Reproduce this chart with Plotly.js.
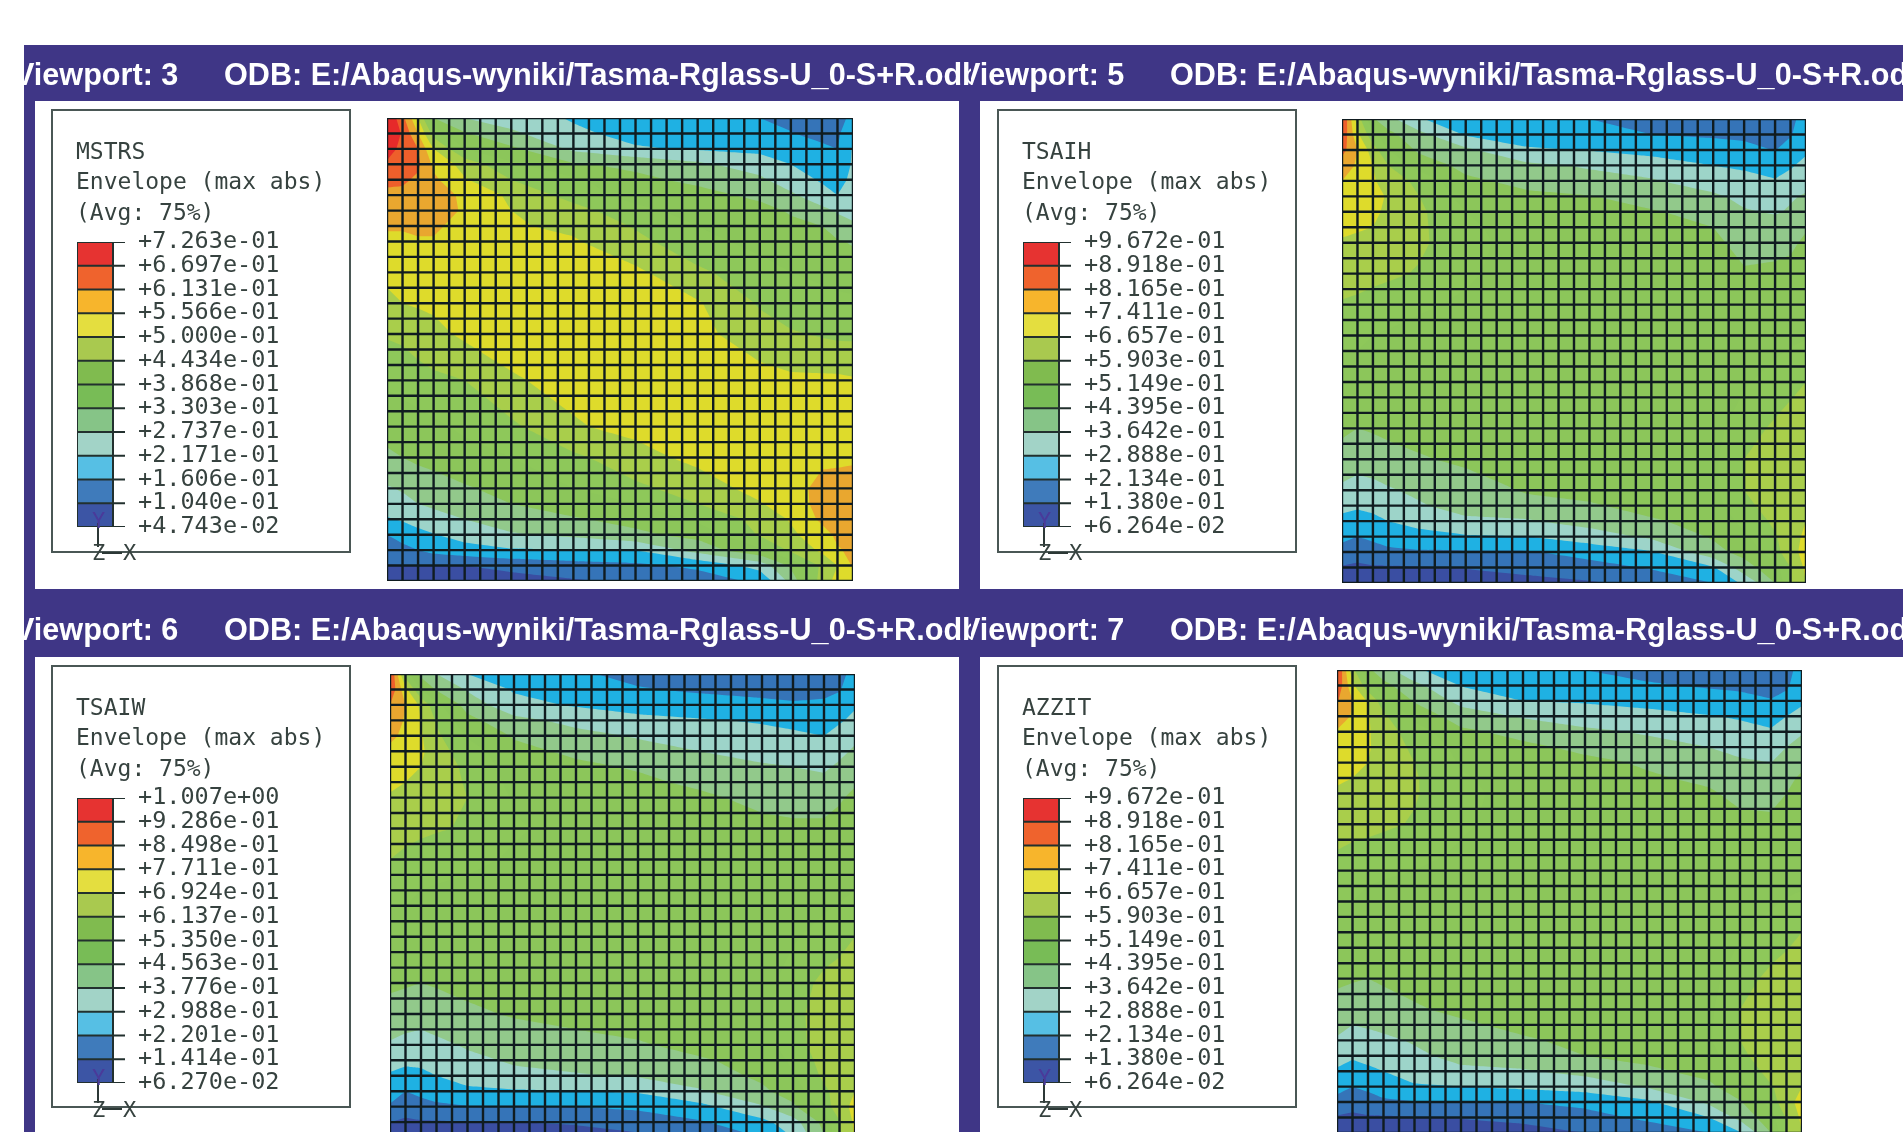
<!DOCTYPE html>
<html><head><meta charset="utf-8">
<script src="https://cdn.plot.ly/plotly-3.0.1.min.js"></script>
<style>html,body{margin:0;padding:0;background:#fff}#plot{width:1903px;height:1132px;filter:blur(0.6px)}</style>
</head><body><div id="plot"></div>
<script>
// Mesh sampling positions, in element counts from the top-left corner of the plate
const nodeX = [0,1,2,3,5,8,12,16,20,24,26,28,29,30];
const nodeY = [0,1,2,3,4,5,6,7,8,10,12,14,17,20,22,24,25,26,27,28,29,30];
const meshCells = [...Array(31).keys()];

// Contour-band position: 0 = lowest legend band ... 11 = highest band
const mstrsBands = [
[12.0,10.3,8.0,5.0,4.0,3.5,2.9,2.6,2.4,2.0,1.7,1.5,1.6,2.3],
[11.8,10.9,9.0,6.6,5.1,4.2,3.2,2.7,2.6,2.4,2.05,1.7,1.8,2.9],
[11.3,10.8,10.0,8.0,6.0,5.2,3.8,3.1,2.9,2.75,2.5,2.2,2.0,3.1],
[10.9,10.5,10.2,8.8,7.6,6.2,5.1,4.8,4.2,3.5,3.0,2.5,2.4,3.1],
[10.2,10.2,9.8,9.2,8.1,7.0,6.2,5.2,4.8,4.2,3.4,2.9,2.7,3.2],
[9.8,9.7,9.6,9.5,8.8,7.8,6.6,5.6,5.3,4.8,4.2,3.3,3.0,3.3],
[9.7,9.6,9.5,9.4,8.9,8.0,7.4,6.3,5.6,5.3,4.9,4.3,3.9,3.6],
[9.1,9.1,9.2,9.2,8.6,8.1,7.8,6.9,6.0,5.5,5.2,5.0,4.4,4.2],
[8.8,8.8,8.9,8.9,8.6,8.4,8.1,7.3,6.3,5.7,5.4,5.3,5.1,4.9],
[8.3,8.4,8.5,8.6,8.5,8.4,8.2,8.2,7.2,6.4,6.0,5.8,5.7,5.5],
[7.7,8.0,8.1,8.2,8.4,8.5,8.5,8.4,8.1,6.9,6.5,6.3,6.2,6.2],
[7.1,7.2,7.5,7.7,8.2,8.4,8.5,8.6,8.3,7.4,7.1,6.9,6.8,6.8],
[6.2,6.4,6.6,6.8,7.0,7.9,8.3,8.6,8.7,8.4,8.2,8.2,8.2,8.1],
[5.2,5.4,5.6,5.8,6.2,6.8,7.9,8.3,8.6,8.7,8.7,8.6,8.5,8.4],
[4.9,5.0,5.2,5.3,5.6,6.0,6.8,7.6,8.3,8.6,8.8,8.9,8.9,8.9],
[3.9,4.1,4.4,4.6,4.9,5.3,6.0,6.8,7.4,8.4,8.8,9.15,9.2,9.3],
[3.5,3.7,4.0,4.2,4.6,5.0,5.5,6.0,7.0,7.9,8.7,9.2,9.4,9.4],
[2.9,3.1,3.4,3.6,4.0,4.5,4.9,5.3,6.2,7.3,8.1,9.2,9.4,9.4],
[2.0,2.4,2.7,2.95,3.4,3.9,4.2,4.8,5.3,7.1,7.8,8.6,9.2,9.3],
[1.5,1.7,2.0,2.3,2.6,2.9,3.0,3.0,4.4,5.8,7.2,8.2,8.9,9.2],
[0.95,0.97,0.98,0.99,1.0,1.3,1.6,1.8,2.2,3.4,5.2,7.2,8.0,9.1],
[0.3,0.3,0.4,0.4,0.5,0.6,0.9,1.2,1.5,2.2,4.3,7.5,8.3,9.0]];
const tsaihBands = [
[11.2,7.5,5.1,4.3,3.05,2.6,2.3,2.0,1.7,1.5,1.4,1.3,1.7,2.5],
[10.9,8.2,6.3,5.3,4.3,2.9,2.6,2.3,2.0,1.85,1.7,1.6,1.9,2.8],
[10.4,9.0,7.5,6.0,4.8,4.2,3.1,2.95,2.65,2.5,2.4,1.95,2.5,2.85],
[9.4,8.9,8.0,7.0,5.6,4.7,4.2,3.9,3.5,3.0,2.9,2.7,2.9,3.25],
[9.0,8.8,8.1,7.6,6.7,5.2,4.7,4.3,4.1,3.4,3.2,3.05,3.3,3.7],
[8.7,8.6,8.3,7.9,7.0,5.6,5.2,5.05,4.5,4.2,3.7,3.6,3.9,4.1],
[8.5,8.4,8.2,7.8,7.2,6.0,5.4,5.2,5.1,4.6,4.1,3.9,4.1,4.4],
[8.2,8.1,8.0,7.7,7.2,6.2,5.5,5.3,5.2,5.0,4.5,4.4,4.6,4.9],
[7.9,7.8,7.7,7.6,7.2,6.3,5.6,5.4,5.3,5.2,4.7,4.7,4.8,5.2],
[7.5,7.4,7.3,7.2,6.9,6.1,5.7,5.5,5.5,5.4,5.1,5.2,5.3,5.5],
[6.9,6.8,6.6,6.4,6.1,5.9,5.7,5.6,5.6,5.5,5.4,5.5,5.6,5.6],
[6.3,6.2,6.0,5.9,5.8,5.7,5.6,5.6,5.6,5.6,5.6,5.7,5.8,5.9],
[5.6,5.6,5.6,5.6,5.6,5.6,5.6,5.6,5.6,5.7,5.9,6.3,6.6,7.0],
[5.2,5.0,5.1,5.2,5.4,5.5,5.6,5.6,5.6,5.7,6.5,7.2,7.6,7.7],
[4.6,4.4,4.5,4.7,4.9,5.2,5.4,5.5,5.6,5.8,7.0,7.6,7.7,7.8],
[3.8,3.6,3.7,3.9,4.2,4.5,5.1,5.3,5.5,5.8,7.0,7.7,7.7,7.8],
[3.2,3.1,3.2,3.4,3.9,4.4,4.7,4.9,5.3,5.6,6.7,7.5,7.7,7.9],
[2.8,2.7,2.8,3.0,3.4,3.8,3.9,4.4,4.9,5.3,6.3,7.2,7.6,8.0],
[2.2,2.0,2.2,2.4,2.6,2.9,3.0,3.5,4.2,5.1,5.8,6.9,7.6,8.2],
[1.7,1.4,1.6,1.8,1.9,1.9,1.9,2.4,2.9,4.7,5.3,6.6,7.7,8.3],
[0.9,0.8,0.9,0.9,0.95,1.05,1.3,1.6,2.1,2.9,4.6,5.6,7.0,8.2],
[0.4,0.4,0.4,0.4,0.5,0.5,0.7,0.9,1.3,2.0,3.2,5.0,7.0,8.0]];
const tsaiwBands = [
[11.3,6.5,4.7,4.0,3.0,2.6,2.1,1.8,1.6,1.4,1.3,1.3,1.6,2.5],
[10.9,8.3,6.0,4.9,3.9,2.9,2.5,2.05,1.9,1.75,1.7,1.7,1.9,2.8],
[10.0,9.0,7.8,6.3,4.6,3.3,2.9,2.7,2.3,2.2,2.1,2.2,2.5,2.9],
[9.6,8.9,8.0,6.9,5.3,4.3,3.7,3.2,3.1,2.9,2.7,2.6,2.9,3.2],
[9.2,8.8,8.1,7.2,5.9,4.9,4.3,3.9,3.5,3.3,3.2,3.0,3.3,3.7],
[8.8,8.5,8.2,7.4,6.5,5.3,4.8,4.4,4.0,3.7,3.5,3.4,3.7,4.2],
[8.5,8.3,8.0,7.5,6.8,5.5,5.2,4.9,4.4,4.1,4.0,3.8,4.2,4.5],
[8.2,8.0,7.8,7.5,6.9,5.7,5.3,5.2,4.8,4.4,4.3,4.3,4.6,4.9],
[7.9,7.7,7.6,7.4,7.0,5.9,5.5,5.4,5.2,4.7,4.6,4.6,4.9,5.2],
[7.4,7.3,7.2,7.1,6.9,6.1,5.7,5.6,5.5,5.3,5.2,5.2,5.3,5.5],
[7.0,6.8,6.6,6.4,6.2,5.9,5.7,5.6,5.6,5.6,5.5,5.5,5.6,5.6],
[6.2,6.2,6.0,5.9,5.8,5.7,5.6,5.6,5.6,5.6,5.6,5.7,5.8,6.0],
[5.6,5.6,5.6,5.6,5.6,5.6,5.6,5.6,5.6,5.7,5.9,6.3,6.6,7.0],
[5.2,5.1,5.0,5.1,5.3,5.5,5.6,5.6,5.6,5.7,6.4,7.3,7.5,7.7],
[4.6,4.5,4.4,4.5,4.8,5.1,5.3,5.5,5.6,5.7,6.6,7.6,7.7,7.7],
[3.9,3.7,3.6,3.8,4.1,4.4,4.7,4.9,5.3,5.6,6.5,7.6,7.7,7.7],
[3.3,3.2,3.2,3.4,3.8,4.1,4.4,4.7,4.9,5.3,6.2,7.4,7.6,7.8],
[2.9,2.7,2.8,3.0,3.4,3.8,3.9,4.1,4.5,5.2,5.9,7.2,7.6,7.9],
[2.4,2.0,2.2,2.5,2.8,2.9,3.0,3.1,3.9,4.8,5.5,6.8,7.4,8.0],
[1.9,1.5,1.7,1.8,1.95,1.95,2.0,2.2,2.7,3.9,4.8,6.4,7.7,8.2],
[1.0,0.8,0.9,0.9,1.0,1.0,1.1,1.4,1.9,2.7,3.6,5.3,6.9,8.2],
[0.4,0.4,0.4,0.4,0.4,0.5,0.6,0.8,1.2,2.0,3.0,4.9,6.9,8.1]];
const azzitBands = [
[11.3,7.3,5.2,4.4,3.1,2.6,2.3,2.0,1.7,1.5,1.4,1.3,1.6,2.5],
[10.9,8.2,6.4,5.3,4.3,2.95,2.6,2.3,2.1,1.9,1.8,1.7,1.8,2.8],
[10.1,9.0,7.9,6.4,4.9,3.7,3.0,2.9,2.7,2.4,2.3,2.05,2.4,2.85],
[9.6,8.9,8.1,7.2,5.7,4.5,3.9,3.5,3.3,3.05,2.9,2.7,3.0,3.3],
[8.9,8.8,8.1,7.5,6.5,5.2,4.7,4.2,3.9,3.5,3.3,3.1,3.5,3.9],
[8.6,8.5,8.1,7.6,6.8,5.7,5.2,4.8,4.3,4.0,3.8,3.6,4.0,4.4],
[8.4,8.3,8.0,7.6,7.0,5.9,5.4,5.2,4.9,4.4,4.1,4.0,4.3,4.7],
[8.1,8.0,7.8,7.6,7.1,6.1,5.6,5.4,5.1,4.85,4.4,4.4,4.7,5.2],
[7.9,7.7,7.6,7.4,7.1,6.2,5.7,5.5,5.3,5.1,4.8,4.7,5.0,5.4],
[7.5,7.4,7.3,7.2,6.9,6.1,5.7,5.6,5.5,5.3,5.2,5.2,5.3,5.5],
[6.9,6.7,6.6,6.4,6.2,5.9,5.7,5.6,5.6,5.5,5.5,5.5,5.6,5.6],
[6.3,6.2,6.0,5.9,5.8,5.7,5.6,5.6,5.6,5.6,5.6,5.7,5.8,5.9],
[5.6,5.6,5.6,5.6,5.6,5.6,5.6,5.6,5.6,5.7,5.9,6.3,6.6,7.0],
[5.2,5.1,5.0,5.1,5.3,5.5,5.6,5.6,5.6,5.7,6.5,7.3,7.6,7.7],
[4.6,4.4,4.5,4.7,4.9,5.2,5.5,5.6,5.6,5.8,7.0,7.6,7.7,7.8],
[3.9,3.6,3.7,3.8,4.1,4.5,4.9,5.2,5.5,5.9,7.0,7.6,7.7,7.8],
[3.3,3.1,3.3,3.4,3.8,4.3,4.6,5.0,5.3,5.6,6.8,7.5,7.6,7.8],
[2.9,2.7,2.8,3.0,3.4,3.8,3.9,4.3,4.8,5.3,6.2,7.4,7.6,7.9],
[2.3,2.0,2.2,2.6,2.9,3.0,3.2,3.4,4.1,4.8,5.6,6.9,7.5,8.0],
[1.7,1.4,1.6,1.8,1.95,1.98,2.0,2.3,2.8,4.2,4.9,6.4,7.8,8.2],
[0.9,0.8,0.9,0.9,0.95,1.05,1.2,1.6,2.2,3.0,4.3,5.6,7.1,8.2],
[0.4,0.4,0.4,0.4,0.5,0.5,0.7,1.0,1.4,2.0,2.9,5.0,7.0,8.0]];

// Legend tick labels, bottom to top
const mstrsTicks = ["+4.743e-02","+1.040e-01","+1.606e-01","+2.171e-01","+2.737e-01","+3.303e-01","+3.868e-01","+4.434e-01","+5.000e-01","+5.566e-01","+6.131e-01","+6.697e-01","+7.263e-01"];
const tsaihTicks = ["+6.264e-02","+1.380e-01","+2.134e-01","+2.888e-01","+3.642e-01","+4.395e-01","+5.149e-01","+5.903e-01","+6.657e-01","+7.411e-01","+8.165e-01","+8.918e-01","+9.672e-01"];
const tsaiwTicks = ["+6.270e-02","+1.414e-01","+2.201e-01","+2.988e-01","+3.776e-01","+4.563e-01","+5.350e-01","+6.137e-01","+6.924e-01","+7.711e-01","+8.498e-01","+9.286e-01","+1.007e+00"];
const azzitTicks = ["+6.264e-02","+1.380e-01","+2.134e-01","+2.888e-01","+3.642e-01","+4.395e-01","+5.149e-01","+5.903e-01","+6.657e-01","+7.411e-01","+8.165e-01","+8.918e-01","+9.672e-01"];
const legendBands = [0,1,2,3,4,5,6,7,8,9,10,11];

const fieldColors = ["#3a4ea2","#3574b8","#1fb1e3","#9dd4c9","#92c98b","#8cc65a","#8ec85a","#a9ce4b","#dedb2b","#e9a72f","#ee5f2b","#e62a2a"];
const legendColors = ["#3c55a5","#3f7bbb","#56bfe4","#a2d3c7","#86c487","#78bc56","#80bb4f","#a9c94f","#e4de3f","#f7b52c","#ef632d","#e63331"];
const odbPath = "ODB: E:/Abaqus-wyniki/Tasma-Rglass-U_0-S+R.odb";

const W = 1903, H = 1132;
const PURPLE = "#3f3686", INK = "#36423f", MESH = "#101c20";
const mono = "DejaVu Sans Mono", headFont = "Liberation Sans";
const stepped = cs => cs.flatMap((c,i)=>[[i/cs.length,c],[(i+1)/cs.length,c]]);
const fx = p => p/W, fy = p => 1-p/H;

const panels = [
 {name:"MSTRS", vp:"3", z:mstrsBands, ticks:mstrsTicks, hx:[24,971], hy:[45,101], hv:0.43, tx:14,   ox:224,
  plate:[387,853,118,581], yEnd:30, box:[52,350,110,552], bar:[77,113,242,527], white:[35,959,101,589]},
 {name:"TSAIH", vp:"5", z:tsaihBands, ticks:tsaihTicks, hx:[971,1903], hy:[45,101], hv:0.43, tx:960, ox:1170,
  plate:[1342,1806,119,583], yEnd:30, box:[998,1296,110,552], bar:[1023,1059,242,527], white:[980,1903,101,589]},
 {name:"TSAIW", vp:"6", z:tsaiwBands, ticks:tsaiwTicks, hx:[24,971], hy:[589,657], hv:0.36, tx:14,  ox:224,
  plate:[390,855,674,1132], yEnd:29.64, box:[52,350,666,1107], bar:[77,113,798,1083], white:[35,959,657,1132]},
 {name:"AZZIT", vp:"7", z:azzitBands, ticks:azzitTicks, hx:[971,1903], hy:[589,657], hv:0.36, tx:960, ox:1170,
  plate:[1337,1802,670,1132], yEnd:29.94, box:[998,1296,666,1107], bar:[1023,1059,798,1083], white:[980,1903,657,1132]}
];

const data = [], shapes = [], annotations = [];
const layout = {width:W, height:H, margin:{l:0,r:0,t:0,b:0}, paper_bgcolor:"#fff", plot_bgcolor:"rgba(0,0,0,0)", showlegend:false};
shapes.push({type:"rect",xref:"paper",yref:"paper",x0:fx(24),x1:1,y0:0,y1:fy(45),fillcolor:PURPLE,line:{width:0},layer:"below"});

let ax = 1;
const hidden = {visible:false, fixedrange:true, showgrid:false, zeroline:false};
function addAxes(px, py, xExtra, yExtra){
  const n = ax++, sx = n===1?"":String(n);
  layout["xaxis"+sx] = Object.assign({}, hidden, {domain:[fx(px[0]),fx(px[1])], anchor:"y"+sx}, xExtra);
  layout["yaxis"+sx] = Object.assign({}, hidden, {domain:[fy(py[1]),fy(py[0])], anchor:"x"+sx}, yExtra);
  return {x:"x"+sx, y:"y"+sx};
}
function lineSegments(a0,a1,b){ const u=[],v=[]; b.forEach(k=>{u.push(a0,a1,null);v.push(k,k,null);}); return [u,v]; }

panels.forEach(p=>{
  const [wx0,wx1,wy0,wy1] = p.white;
  shapes.push({type:"rect",xref:"paper",yref:"paper",x0:fx(wx0),x1:fx(wx1),y0:fy(wy1),y1:fy(wy0),fillcolor:"#fff",line:{width:0},layer:"below"});
  const [bx0,bx1,by0,by1] = p.box;
  shapes.push({type:"rect",xref:"paper",yref:"paper",x0:fx(bx0),x1:fx(bx1),y0:fy(by1),y1:fy(by0),fillcolor:"rgba(0,0,0,0)",line:{color:"#4a5755",width:2},layer:"below"});

  // header strip text, clipped to its strip
  const h = addAxes(p.hx, p.hy, {range:p.hx}, {range:[0,1]});
  data.push({type:"scatter",mode:"text",xaxis:h.x,yaxis:h.y,cliponaxis:true,hoverinfo:"skip",
    x:[p.tx,p.ox], y:[p.hv,p.hv], text:["Viewport: "+p.vp, odbPath], textposition:"middle right",
    textfont:{family:headFont,size:30.6,color:"#fff",weight:700}});

  // field
  const [px0,px1,py0,py1] = p.plate;
  const f = addAxes([px0,px1],[py0,py1],{range:[0,30]},{range:[p.yEnd,0]});
  data.push({type:"contour",xaxis:f.x,yaxis:f.y,x:nodeX,y:nodeY,z:p.z,zmin:0,zmax:12,autocontour:false,
    contours:{start:1,end:11,size:1,coloring:"fill",showlines:false},line:{width:0,smoothing:0},
    colorscale:stepped(fieldColors),showscale:false,hoverinfo:"skip"});
  const [hx,hy] = lineSegments(0,30,meshCells), mx=[...hx], my=[...hy];
  meshCells.forEach(k=>{mx.push(k,k,null);my.push(0,30,null);});
  data.push({type:"scatter",mode:"lines",xaxis:f.x,yaxis:f.y,x:mx,y:my,cliponaxis:false,hoverinfo:"skip",line:{color:MESH,width:2.4}});

  // legend bar: the axis spans the bar plus its tick stubs; level lines run across both
  const [lx0,lx1,ly0,ly1] = p.bar;
  const tickLen = 12, xMax = (lx1-lx0+tickLen)/(lx1-lx0);
  const l = addAxes([lx0,lx1+tickLen],[ly0,ly1],{range:[0,xMax]},{
    visible:true,range:[0,12],side:"right",showline:false,tickmode:"array",tickvals:p.ticks.map((_,i)=>i),ticktext:p.ticks,
    ticks:"",ticklabelstandoff:12,ticklabelshift:-2,
    tickfont:{family:mono,size:23.5,color:INK}});
  data.push({type:"heatmap",xaxis:l.x,yaxis:l.y,x:[0,1],y:p.ticks.map((_,i)=>i),z:legendBands.map(b=>[b]),zmin:0,zmax:12,
    colorscale:stepped(legendColors),showscale:false,hoverinfo:"skip",xgap:0,ygap:0});
  const [ux,uy] = lineSegments(0,xMax,p.ticks.map((_,i)=>i));
  ux.push(0,0,null,1,1,null); uy.push(0,12,null,0,12,null);
  data.push({type:"scatter",mode:"lines",xaxis:l.x,yaxis:l.y,x:ux,y:uy,cliponaxis:false,hoverinfo:"skip",line:{color:"#22302e",width:2}});

  // legend heading
  const tx = bx0+21.5, t0 = by0+40.5;
  [p.name,"Envelope (max abs)","(Avg: 75%)"].forEach((s,i)=>annotations.push({xref:"paper",yref:"paper",x:fx(tx),y:fy(t0+i*30.5),
    text:s,showarrow:false,xanchor:"left",yanchor:"middle",font:{family:mono,size:23,color:INK}}));

  // triad
  const cx = lx0+21, ty = ly1;
  shapes.push({type:"line",xref:"paper",yref:"paper",x0:fx(cx),x1:fx(cx),y0:fy(ty-4),y1:fy(ty+20),line:{color:"#2c3836",width:2},layer:"above"});
  shapes.push({type:"line",xref:"paper",yref:"paper",x0:fx(cx+4),x1:fx(cx+24),y0:fy(ty+26),y1:fy(ty+26),line:{color:"#2c3836",width:2},layer:"above"});
  const triad = (s,dx,dy,c)=>annotations.push({xref:"paper",yref:"paper",x:fx(cx+dx),y:fy(ty+dy),text:s,showarrow:false,xanchor:"center",yanchor:"middle",font:{family:mono,size:22,color:c}});
  triad("Y",0,-6,"#4a3a9a");
  triad("Z",0,26,INK);
  triad("X",32,26,INK);
});
layout.shapes = shapes; layout.annotations = annotations;
Plotly.newPlot("plot", data, layout, {staticPlot:true, displayModeBar:false});
</script></body></html>
